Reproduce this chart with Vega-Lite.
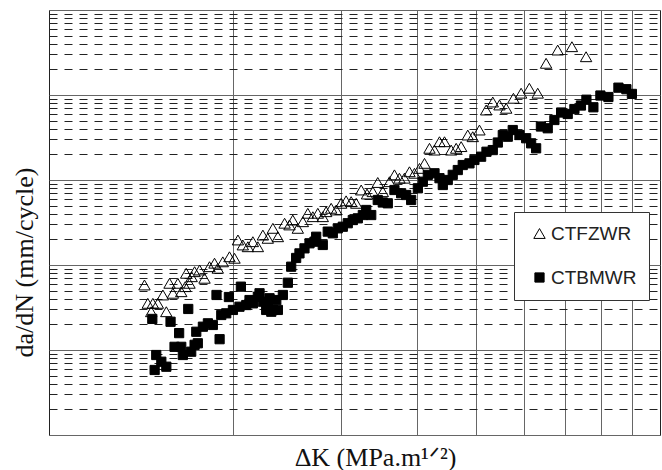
{
  "$schema": "https://vega.github.io/schema/vega-lite/v6.json",
  "width": 611,
  "height": 425,
  "autosize": {"type": "none"},
  "padding": {"left": 49, "top": 10, "right": 2, "bottom": 35},
  "background": "white",
  "config": {"view": {"stroke": "#222", "strokeWidth": 1}},
  "data": {"values": [
    {"series":"CTFZWR","dK":14.33,"dadN":5.82e-5},
    {"series":"CTFZWR","dK":14.51,"dadN":3.54e-5},
    {"series":"CTFZWR","dK":14.79,"dadN":3.54e-5},
    {"series":"CTFZWR","dK":15.07,"dadN":3.54e-5},
    {"series":"CTFZWR","dK":14.70,"dadN":2.82e-5},
    {"series":"CTFZWR","dK":15.56,"dadN":2.82e-5},
    {"series":"CTFZWR","dK":15.36,"dadN":4.44e-5},
    {"series":"CTFZWR","dK":15.75,"dadN":6.09e-5},
    {"series":"CTFZWR","dK":15.95,"dadN":4.65e-5},
    {"series":"CTFZWR","dK":16.25,"dadN":6.09e-5},
    {"series":"CTFZWR","dK":16.46,"dadN":4.85e-5},
    {"series":"CTFZWR","dK":16.77,"dadN":7.99e-5},
    {"series":"CTFZWR","dK":16.98,"dadN":6.09e-5},
    {"series":"CTFZWR","dK":17.31,"dadN":8.34e-5},
    {"series":"CTFZWR","dK":17.64,"dadN":8.73e-5},
    {"series":"CTFZWR","dK":17.97,"dadN":6.98e-5},
    {"series":"CTFZWR","dK":18.31,"dadN":9.55e-5},
    {"series":"CTFZWR","dK":18.66,"dadN":1.05e-4},
    {"series":"CTFZWR","dK":18.89,"dadN":9.15e-5},
    {"series":"CTFZWR","dK":19.25,"dadN":1.09e-4},
    {"series":"CTFZWR","dK":19.74,"dadN":1.25e-4},
    {"series":"CTFZWR","dK":20.12,"dadN":1.20e-4},
    {"series":"CTFZWR","dK":20.38,"dadN":1.97e-4},
    {"series":"CTFZWR","dK":20.76,"dadN":1.72e-4},
    {"series":"CTFZWR","dK":21.16,"dadN":1.64e-4},
    {"series":"CTFZWR","dK":21.56,"dadN":1.88e-4},
    {"series":"CTFZWR","dK":21.97,"dadN":1.64e-4},
    {"series":"CTFZWR","dK":22.39,"dadN":2.25e-4},
    {"series":"CTFZWR","dK":22.81,"dadN":2.06e-4},
    {"series":"CTFZWR","dK":23.25,"dadN":2.70e-4},
    {"series":"CTFZWR","dK":23.69,"dadN":2.15e-4},
    {"series":"CTFZWR","dK":24.30,"dadN":3.10e-4},
    {"series":"CTFZWR","dK":24.75,"dadN":2.96e-4},
    {"series":"CTFZWR","dK":25.06,"dadN":3.38e-4},
    {"series":"CTFZWR","dK":25.54,"dadN":2.70e-4},
    {"series":"CTFZWR","dK":26.03,"dadN":3.23e-4},
    {"series":"CTFZWR","dK":26.52,"dadN":4.06e-4},
    {"series":"CTFZWR","dK":27.03,"dadN":3.70e-4},
    {"series":"CTFZWR","dK":27.54,"dadN":4.06e-4},
    {"series":"CTFZWR","dK":28.06,"dadN":3.70e-4},
    {"series":"CTFZWR","dK":28.42,"dadN":4.24e-4},
    {"series":"CTFZWR","dK":28.96,"dadN":4.65e-4},
    {"series":"CTFZWR","dK":29.52,"dadN":4.44e-4},
    {"series":"CTFZWR","dK":30.07,"dadN":5.32e-4},
    {"series":"CTFZWR","dK":30.64,"dadN":5.69e-4},
    {"series":"CTFZWR","dK":31.23,"dadN":5.56e-4},
    {"series":"CTFZWR","dK":31.83,"dadN":5.32e-4},
    {"series":"CTFZWR","dK":32.43,"dadN":7.63e-4},
    {"series":"CTFZWR","dK":33.15,"dadN":6.84e-4},
    {"series":"CTFZWR","dK":33.88,"dadN":7.28e-4},
    {"series":"CTFZWR","dK":34.52,"dadN":9.35e-4},
    {"series":"CTFZWR","dK":35.18,"dadN":7.28e-4},
    {"series":"CTFZWR","dK":36.08,"dadN":9.55e-4},
    {"series":"CTFZWR","dK":36.76,"dadN":1.15e-3},
    {"series":"CTFZWR","dK":37.46,"dadN":1.05e-3},
    {"series":"CTFZWR","dK":38.17,"dadN":1.05e-3},
    {"series":"CTFZWR","dK":38.90,"dadN":1.25e-3},
    {"series":"CTFZWR","dK":39.64,"dadN":1.20e-3},
    {"series":"CTFZWR","dK":40.40,"dadN":1.37e-3},
    {"series":"CTFZWR","dK":41.17,"dadN":1.57e-3},
    {"series":"CTFZWR","dK":41.95,"dadN":2.36e-3},
    {"series":"CTFZWR","dK":42.75,"dadN":2.25e-3},
    {"series":"CTFZWR","dK":43.56,"dadN":2.82e-3},
    {"series":"CTFZWR","dK":44.39,"dadN":2.82e-3},
    {"series":"CTFZWR","dK":45.52,"dadN":2.25e-3},
    {"series":"CTFZWR","dK":46.39,"dadN":2.36e-3},
    {"series":"CTFZWR","dK":47.27,"dadN":2.47e-3},
    {"series":"CTFZWR","dK":48.46,"dadN":3.38e-3},
    {"series":"CTFZWR","dK":49.38,"dadN":3.23e-3},
    {"series":"CTFZWR","dK":50.64,"dadN":3.87e-3},
    {"series":"CTFZWR","dK":51.94,"dadN":6.66e-3},
    {"series":"CTFZWR","dK":53.25,"dadN":8.27e-3},
    {"series":"CTFZWR","dK":54.61,"dadN":7.63e-3},
    {"series":"CTFZWR","dK":56.01,"dadN":6.98e-3},
    {"series":"CTFZWR","dK":57.56,"dadN":9.15e-3},
    {"series":"CTFZWR","dK":59.25,"dadN":1.05e-2},
    {"series":"CTFZWR","dK":61.12,"dadN":1.20e-2},
    {"series":"CTFZWR","dK":63.08,"dadN":1.05e-2},
    {"series":"CTFZWR","dK":65.10,"dadN":2.36e-2},
    {"series":"CTFZWR","dK":68.01,"dadN":3.38e-2},
    {"series":"CTFZWR","dK":71.75,"dadN":3.70e-2},
    {"series":"CTFZWR","dK":75.69,"dadN":2.82e-2},
    {"series":"CTFZWR","dK":16.71,"dadN":5.56e-5},
    {"series":"CTFZWR","dK":17.12,"dadN":7.28e-5},
    {"series":"CTBMWR","dK":14.76,"dadN":2.32e-5},
    {"series":"CTBMWR","dK":15.81,"dadN":2.15e-5},
    {"series":"CTBMWR","dK":16.90,"dadN":3.04e-5},
    {"series":"CTBMWR","dK":18.80,"dadN":4.44e-5},
    {"series":"CTBMWR","dK":19.02,"dadN":1.34e-5},
    {"series":"CTBMWR","dK":19.70,"dadN":4.20e-5},
    {"series":"CTBMWR","dK":20.61,"dadN":5.56e-5},
    {"series":"CTBMWR","dK":14.98,"dadN":8.73e-6},
    {"series":"CTBMWR","dK":15.27,"dadN":7.28e-6},
    {"series":"CTBMWR","dK":15.56,"dadN":6.36e-6},
    {"series":"CTBMWR","dK":14.89,"dadN":5.82e-6},
    {"series":"CTBMWR","dK":16.05,"dadN":1.09e-5},
    {"series":"CTBMWR","dK":16.33,"dadN":1.58e-5},
    {"series":"CTBMWR","dK":16.46,"dadN":1.09e-5},
    {"series":"CTBMWR","dK":16.56,"dadN":8.73e-6},
    {"series":"CTBMWR","dK":17.09,"dadN":9.55e-6},
    {"series":"CTBMWR","dK":17.31,"dadN":1.15e-5},
    {"series":"CTBMWR","dK":17.42,"dadN":1.64e-5},
    {"series":"CTBMWR","dK":17.52,"dadN":1.20e-5},
    {"series":"CTBMWR","dK":17.86,"dadN":1.88e-5},
    {"series":"CTBMWR","dK":18.20,"dadN":2.06e-5},
    {"series":"CTBMWR","dK":18.54,"dadN":1.97e-5},
    {"series":"CTBMWR","dK":19.14,"dadN":2.58e-5},
    {"series":"CTBMWR","dK":19.50,"dadN":2.70e-5},
    {"series":"CTBMWR","dK":20.00,"dadN":2.96e-5},
    {"series":"CTBMWR","dK":20.50,"dadN":3.23e-5},
    {"series":"CTBMWR","dK":21.03,"dadN":3.38e-5},
    {"series":"CTBMWR","dK":21.56,"dadN":3.54e-5},
    {"series":"CTBMWR","dK":21.29,"dadN":3.87e-5},
    {"series":"CTBMWR","dK":21.97,"dadN":4.24e-5},
    {"series":"CTBMWR","dK":22.11,"dadN":4.65e-5},
    {"series":"CTBMWR","dK":22.39,"dadN":3.70e-5},
    {"series":"CTBMWR","dK":22.67,"dadN":2.96e-5},
    {"series":"CTBMWR","dK":22.81,"dadN":3.23e-5},
    {"series":"CTBMWR","dK":23.11,"dadN":2.82e-5},
    {"series":"CTBMWR","dK":23.25,"dadN":2.96e-5},
    {"series":"CTBMWR","dK":23.69,"dadN":2.96e-5},
    {"series":"CTBMWR","dK":22.96,"dadN":4.06e-5},
    {"series":"CTBMWR","dK":23.55,"dadN":3.87e-5},
    {"series":"CTBMWR","dK":24.14,"dadN":4.44e-5},
    {"series":"CTBMWR","dK":24.60,"dadN":6.19e-5},
    {"series":"CTBMWR","dK":24.91,"dadN":9.55e-5},
    {"series":"CTBMWR","dK":25.38,"dadN":1.21e-4},
    {"series":"CTBMWR","dK":25.70,"dadN":1.37e-4},
    {"series":"CTBMWR","dK":26.19,"dadN":1.57e-4},
    {"series":"CTBMWR","dK":26.69,"dadN":1.80e-4},
    {"series":"CTBMWR","dK":27.20,"dadN":1.88e-4},
    {"series":"CTBMWR","dK":27.37,"dadN":2.15e-4},
    {"series":"CTBMWR","dK":28.06,"dadN":1.72e-4},
    {"series":"CTBMWR","dK":28.59,"dadN":2.47e-4},
    {"series":"CTBMWR","dK":29.14,"dadN":2.36e-4},
    {"series":"CTBMWR","dK":29.69,"dadN":2.70e-4},
    {"series":"CTBMWR","dK":30.26,"dadN":2.82e-4},
    {"series":"CTBMWR","dK":30.83,"dadN":3.10e-4},
    {"series":"CTBMWR","dK":31.42,"dadN":3.38e-4},
    {"series":"CTBMWR","dK":32.02,"dadN":3.54e-4},
    {"series":"CTBMWR","dK":32.63,"dadN":3.87e-4},
    {"series":"CTBMWR","dK":33.05,"dadN":4.44e-4},
    {"series":"CTBMWR","dK":33.68,"dadN":3.87e-4},
    {"series":"CTBMWR","dK":34.52,"dadN":5.82e-4},
    {"series":"CTBMWR","dK":35.18,"dadN":5.44e-4},
    {"series":"CTBMWR","dK":35.85,"dadN":5.32e-4},
    {"series":"CTBMWR","dK":36.76,"dadN":7.63e-4},
    {"series":"CTBMWR","dK":37.70,"dadN":6.98e-4},
    {"series":"CTBMWR","dK":38.42,"dadN":6.66e-4},
    {"series":"CTBMWR","dK":39.15,"dadN":5.82e-4},
    {"series":"CTBMWR","dK":40.15,"dadN":7.99e-4},
    {"series":"CTBMWR","dK":40.91,"dadN":9.55e-4},
    {"series":"CTBMWR","dK":41.69,"dadN":1.15e-3},
    {"series":"CTBMWR","dK":42.75,"dadN":1.20e-3},
    {"series":"CTBMWR","dK":43.56,"dadN":1.05e-3},
    {"series":"CTBMWR","dK":44.11,"dadN":8.73e-4},
    {"series":"CTBMWR","dK":44.94,"dadN":1.00e-3},
    {"series":"CTBMWR","dK":45.79,"dadN":1.15e-3},
    {"series":"CTBMWR","dK":46.67,"dadN":1.31e-3},
    {"series":"CTBMWR","dK":47.55,"dadN":1.50e-3},
    {"series":"CTBMWR","dK":48.77,"dadN":1.57e-3},
    {"series":"CTBMWR","dK":49.69,"dadN":1.72e-3},
    {"series":"CTBMWR","dK":50.96,"dadN":1.88e-3},
    {"series":"CTBMWR","dK":52.00,"dadN":2.15e-3},
    {"series":"CTBMWR","dK":53.25,"dadN":2.25e-3},
    {"series":"CTBMWR","dK":54.27,"dadN":2.76e-3},
    {"series":"CTBMWR","dK":55.30,"dadN":3.38e-3},
    {"series":"CTBMWR","dK":56.35,"dadN":3.23e-3},
    {"series":"CTBMWR","dK":57.41,"dadN":3.87e-3},
    {"series":"CTBMWR","dK":58.88,"dadN":3.38e-3},
    {"series":"CTBMWR","dK":60.39,"dadN":3.10e-3},
    {"series":"CTBMWR","dK":61.53,"dadN":2.70e-3},
    {"series":"CTBMWR","dK":62.70,"dadN":2.36e-3},
    {"series":"CTBMWR","dK":63.84,"dadN":4.26e-3},
    {"series":"CTBMWR","dK":65.50,"dadN":4.06e-3},
    {"series":"CTBMWR","dK":67.17,"dadN":5.08e-3},
    {"series":"CTBMWR","dK":68.89,"dadN":6.22e-3},
    {"series":"CTBMWR","dK":70.63,"dadN":5.98e-3},
    {"series":"CTBMWR","dK":72.43,"dadN":6.84e-3},
    {"series":"CTBMWR","dK":74.23,"dadN":7.52e-3},
    {"series":"CTBMWR","dK":75.78,"dadN":8.80e-3},
    {"series":"CTBMWR","dK":77.80,"dadN":7.17e-3},
    {"series":"CTBMWR","dK":79.88,"dadN":9.86e-3},
    {"series":"CTBMWR","dK":82.33,"dadN":9.47e-3},
    {"series":"CTBMWR","dK":85.50,"dadN":1.22e-2},
    {"series":"CTBMWR","dK":88.10,"dadN":1.17e-2},
    {"series":"CTBMWR","dK":89.95,"dadN":1.03e-2}
  ]},
  "mark": {"type": "point", "filled": true, "stroke": "black", "strokeWidth": 1, "opacity": 1},
  "encoding": {
    "x": {
      "field": "dK", "type": "quantitative",
      "scale": {"type": "log", "domain": [10, 100], "nice": false},
      "axis": {
        "title": "ΔK (MPa.m¹ᐟ²)",
        "values": [20, 30, 40, 50, 60, 70, 80, 90],
        "labels": false, "ticks": false, "domain": false,
        "grid": true, "gridColor": "#666", "gridWidth": 1,
        "titleFont": "Liberation Serif", "titleFontSize": 26, "titleFontWeight": "normal", "titleColor": "#111",
        "titleX": 326, "titleY": 30, "titleBaseline": "alphabetic", "titleAlign": "center"
      }
    },
    "y": {
      "field": "dadN", "type": "quantitative",
      "scale": {"type": "log", "domain": [1e-6, 1e-1], "nice": false},
      "axis": {
        "title": "da/dN (mm/cycle)",
        "values": [1e-6,2e-6,3e-6,4e-6,5e-6,6e-6,7e-6,8e-6,9e-6,
                   1e-5,2e-5,3e-5,4e-5,5e-5,6e-5,7e-5,8e-5,9e-5,
                   1e-4,2e-4,3e-4,4e-4,5e-4,6e-4,7e-4,8e-4,9e-4,
                   1e-3,2e-3,3e-3,4e-3,5e-3,6e-3,7e-3,8e-3,9e-3,
                   1e-2,2e-2,3e-2,4e-2,5e-2,6e-2,7e-2,8e-2,9e-2,1e-1],
        "labels": false, "ticks": false, "domain": false,
        "grid": true, "gridWidth": 1,
        "gridColor": {"condition": {"test": "abs(log(datum.value)/LN10 - round(log(datum.value)/LN10)) < 0.01", "value": "#666"}, "value": "#222"},
        "gridDash": {"condition": {"test": "abs(log(datum.value)/LN10 - round(log(datum.value)/LN10)) < 0.01", "value": []}, "value": [8, 7]},
        "titleFont": "Liberation Serif", "titleFontSize": 26, "titleFontWeight": "normal", "titleColor": "#111",
        "titleX": -25, "titleY": 252, "titleAlign": "center", "titleBaseline": "middle", "titleAngle": 270
      }
    },
    "shape": {
      "field": "series", "type": "nominal",
      "scale": {"domain": ["CTFZWR", "CTBMWR"], "range": ["triangle-up", "square"]},
      "legend": {
        "title": null, "orient": "none", "legendX": 465, "legendY": 202,
        "fillColor": "white", "strokeColor": "#333", "padding": 12, "rowPadding": 24,
        "labelFont": "Liberation Sans", "labelFontSize": 19, "labelColor": "#222",
        "labelOffset": 2, "symbolOffset": 4,
        "symbolStrokeColor": "black", "symbolStrokeWidth": 1
      }
    },
    "fill": {
      "field": "series", "type": "nominal",
      "scale": {"domain": ["CTFZWR", "CTBMWR"], "range": ["transparent", "black"]}
    },
    "size": {
      "field": "series", "type": "nominal",
      "scale": {"domain": ["CTFZWR", "CTBMWR"], "range": [130, 85]}
    }
  }
}
